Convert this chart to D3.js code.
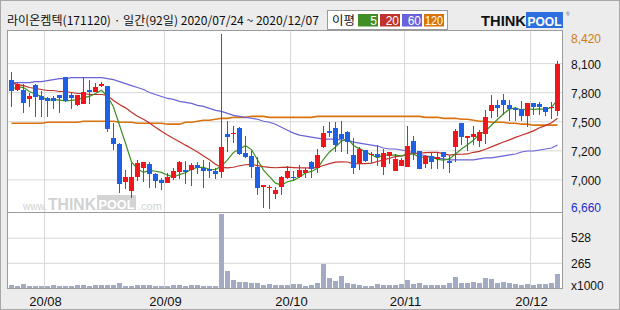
<!DOCTYPE html>
<html><head><meta charset="utf-8">
<script src="https://cdn.jsdelivr.net/npm/d3@7"></script>
<style>body{margin:0;background:#ececec}svg{display:block}</style>
</head><body>
<svg id="c" width="620" height="310"></svg>
<script>
const dates = ["07/24","07/27","07/28","07/29","07/30","07/31",
"08/03","08/04","08/05","08/06","08/07","08/10","08/11","08/12","08/13","08/14","08/18","08/19","08/20","08/21","08/24","08/25","08/26","08/27","08/28","08/31",
"09/01","09/02","09/03","09/04","09/07","09/08","09/09","09/10","09/11","09/14","09/15","09/16","09/17","09/18","09/21","09/22","09/23","09/24","09/25","09/28","09/29",
"10/05","10/06","10/07","10/08","10/12","10/13","10/14","10/15","10/16","10/19","10/20","10/21","10/22","10/23","10/26","10/27","10/28","10/29","10/30",
"11/02","11/03","11/04","11/05","11/06","11/09","11/10","11/11","11/12","11/13","11/16","11/17","11/18","11/19","11/20","11/23","11/24","11/25","11/26","11/27","11/30",
"12/01","12/02","12/03","12/04","12/07"];
const open = [7960,7860,7860,7760,7910,7790,7770,7770,7800,7990,7800,7700,7710,7860,7830,7900,7900,7370,7310,6930,
6840,6980,7070,7110,7010,6950,6920,6970,7030,7050,7050,7100,7070,7060,7040,7030,7410,7410,7470,7220,
7190,7080,6880,6870,6810,6880,6970,6980,6980,7020,7130,7070,7280,7440,7470,7410,7430,7200,7120,7250,
7200,7210,7080,7190,7040,7090,7080,7340,7240,7110,7190,7160,7230,7140,7280,7520,7370,7380,7340,7410,
7640,7700,7750,7700,7670,7660,7590,7720,7710,7680,7670,7640];
const high = [8040,7930,7920,7820,7920,7850,7780,7790,7800,7990,7820,7800,7990,7960,7930,7940,7900,7520,7320,7050,
7120,7150,7130,7130,7020,6970,7020,7070,7140,7140,7120,7130,7150,7130,7070,8420,7540,7490,7480,7390,
7240,7180,6900,6900,6880,6990,7090,7040,7100,7070,7140,7260,7490,7530,7530,7540,7440,7370,7280,7250,
7230,7300,7260,7230,7210,7170,7490,7390,7240,7200,7220,7220,7230,7200,7460,7520,7390,7490,7450,7650,
7800,7750,7810,7750,7680,7740,7720,7720,7730,7680,7730,8150];
const low = [7680,7850,7620,7680,7580,7580,7580,7660,7620,7730,7660,7690,7710,7710,7830,7890,7430,7250,6820,6860,
6770,6940,6930,6870,6870,6850,6920,6950,6960,6910,6890,7010,6870,6970,6960,6970,7230,7320,7200,7170,
6970,6800,6670,6660,6760,6800,6960,6940,6970,6970,6970,7020,7270,7380,7230,7230,7210,7010,7050,7130,
7120,7090,7000,7110,7040,7090,7080,7150,7060,7070,7060,7060,7060,7020,7130,7300,7240,7300,7280,7310,
7570,7580,7600,7540,7540,7540,7480,7600,7600,7590,7560,7590];
const close = [7850,7920,7720,7790,7780,7750,7740,7740,7770,7740,7770,7800,7840,7830,7890,7920,7460,7310,6910,6980,
6980,7120,7130,7010,6940,6920,6980,7040,7130,7030,7100,7070,7040,7040,7010,7280,7380,7420,7210,7180,
7080,6870,6900,6880,6850,6980,7040,6970,7050,7050,7060,7200,7420,7420,7300,7360,7330,7070,7260,7140,
7210,7180,7220,7230,7160,7150,7290,7220,7060,7190,7130,7180,7180,7120,7440,7380,7390,7410,7430,7580,
7700,7670,7700,7660,7650,7590,7720,7680,7680,7630,7680,8120];
const volume = [28,18,42,18,18,18,18,28,18,18,18,28,28,18,28,28,28,28,49,18,
18,28,28,28,18,18,18,28,28,18,28,28,18,18,18,778,176,81,67,60,
49,49,32,39,32,32,32,39,39,18,28,56,257,106,70,127,56,46,35,18,
18,39,28,28,28,39,81,39,49,28,28,28,28,49,116,49,49,60,49,106,
92,49,60,49,39,28,39,28,39,39,49,144];
const ma5 = [7860,7890,7880,7840,7814,7790,7754,7758,7754,7746,7750,7758,7778,7790,7820,7852,7790,7684,7500,7318,
7130,7060,7024,7044,7036,7024,6996,6978,7002,7020,7056,7074,7074,7056,7052,7088,7150,7226,7260,7294,
7254,7152,7048,6982,6916,6896,6930,6944,6978,7018,7034,7066,7156,7230,7280,7340,7366,7296,7264,7232,
7202,7172,7202,7196,7200,7188,7210,7210,7176,7182,7178,7156,7148,7160,7210,7260,7302,7348,7410,7438,
7502,7558,7616,7662,7676,7654,7664,7660,7664,7660,7678,7758];
const ma20 = [7930,7910,7900,7880,7870,7860,7850,7850,7840,7840,7830,7820,7820,7810,7810,7810,7800,7750,7710,7675,
7631,7591,7561,7522,7480,7439,7401,7366,7334,7299,7266,7230,7190,7151,7107,7075,7070,7076,7091,7101,
7106,7093,7082,7075,7071,7074,7077,7073,7069,7070,7068,7075,7094,7113,7127,7131,7129,7111,7114,7112,
7118,7134,7150,7167,7183,7191,7204,7216,7217,7224,7227,7226,7214,7199,7206,7207,7210,7227,7236,7258,
7282,7307,7331,7352,7377,7399,7420,7443,7474,7496,7524,7571];
const ma60 = [7930,7930,7930,7930,7940,7940,7950,7960,7970,7970,7980,7980,7980,7980,7980,7980,7970,7960,7940,7920,
7900,7880,7860,7830,7810,7790,7770,7760,7740,7730,7720,7700,7690,7670,7650,7640,7620,7600,7590,7580,
7570,7560,7540,7530,7510,7480,7450,7420,7400,7390,7380,7370,7360,7360,7360,7350,7350,7330,7320,7310,
7300,7290,7270,7260,7260,7250,7240,7220,7210,7190,7180,7170,7160,7150,7150,7150,7150,7150,7160,7170,
7170,7180,7190,7200,7210,7230,7240,7240,7250,7260,7270,7300];
const ma120 = [7520,7520,7520,7520,7520,7520,7530,7530,7530,7530,7530,7530,7540,7540,7540,7540,7540,7540,7530,7530,
7530,7520,7520,7520,7520,7520,7510,7510,7510,7530,7530,7540,7550,7550,7560,7570,7570,7580,7580,7580,
7590,7590,7590,7580,7580,7580,7580,7580,7580,7580,7580,7590,7590,7590,7590,7590,7590,7590,7590,7590,
7590,7590,7590,7590,7590,7590,7590,7590,7590,7580,7580,7580,7570,7570,7570,7560,7560,7550,7540,7540,
7530,7530,7530,7520,7520,7510,7510,7500,7500,7500,7500,7500];
const priceRange = [6660, 8420];
const priceTickLabels = ["7,000","7,200","7,500","7,800","8,100"];
const volumeMax = 792;
const volumeTickLabels = ["265","528"];
const monthLabels = ["20/08","20/09","20/10","20/11","20/12"];
const monthKeys = ["08","09","10","11","12"];
const maNames = ["5","20","60","120"];
const maColors = ["#3f8f24","#c0332a","#6a62d8","#d9730d"];

const svg = d3.select("#c");
const plotL = 8, plotR = 562, plotT = 31, sepY = 212.5, plotB = 288;

const x = d3.scaleBand().domain(dates).range([8, 560]);
const y = d3.scaleLinear().domain(priceRange).range([208.5, 34]);
const yv = d3.scaleLinear().domain([0, volumeMax]).range([plotB, sepY]);

svg.append("rect").attr("width",620).attr("height",310).attr("fill","#ececec");
svg.append("rect").attr("x",0.5).attr("y",0.5).attr("width",619).attr("height",309)
  .attr("fill","none").attr("stroke","#a8a8a8");
svg.append("rect").attr("x",plotL).attr("y",plotT).attr("width",plotR-plotL).attr("height",plotB-plotT).attr("fill","#fff");

// horizontal gridlines
const priceTicks = d3.range(1,6).map(k => priceRange[0] + k*(priceRange[1]-priceRange[0])/6);
const volTicks = [1,2].map(k => k*volumeMax/3);
const gg = svg.append("g").attr("transform",`translate(${plotL},0)`)
  .call(d3.axisLeft(y).tickValues(priceTicks).tickSize(-(plotR-plotL)).tickFormat(""));
const gv = svg.append("g").attr("transform",`translate(${plotL},0)`)
  .call(d3.axisLeft(yv).tickValues(volTicks).tickSize(-(plotR-plotL)).tickFormat(""));
[gg,gv].forEach(g=>{g.select(".domain").remove(); g.selectAll("line").attr("stroke","#d8d8d8");});

// vertical month gridlines
const monthFirst = monthKeys.map(m => dates.find(d => d.startsWith(m)));
svg.append("g").selectAll("line").data(monthFirst).join("line")
  .attr("x1", d => x(d)+0.5).attr("x2", d => x(d)+0.5)
  .attr("y1", plotT).attr("y2", plotB).attr("stroke","#d8d8d8");

// watermark
const wm = svg.append("g").attr("fill","#d2d2d2").attr("font-family","Liberation Sans, Arial, sans-serif");
wm.append("text").attr("x",23).attr("y",209.5).attr("font-size",10).attr("textLength",24).attr("lengthAdjust","spacingAndGlyphs").text("www.");
wm.append("text").attr("x",48).attr("y",209.5).attr("font-size",16).attr("font-weight","bold").attr("textLength",48).attr("lengthAdjust","spacingAndGlyphs").text("THINK");
wm.append("rect").attr("x",97).attr("y",195).attr("width",39).attr("height",15).attr("fill","#d4d4d4");
wm.append("text").attr("x",98.5).attr("y",209).attr("font-size",13).attr("font-weight","bold").attr("fill","#fff").attr("textLength",36).attr("lengthAdjust","spacingAndGlyphs").text("POOL");
wm.append("text").attr("x",138).attr("y",209.5).attr("font-size",11).text(".com");

// volume bars
svg.append("g").selectAll("rect").data(volume).join("rect")
  .attr("x",(v,i)=>x(dates[i])+1).attr("width",5)
  .attr("y",v=>Math.round(yv(v))).attr("height",v=>plotB-Math.round(yv(v)))
  .attr("fill","#a3abc3");

// moving averages
const line = d3.line().x((v,i)=>x(dates[i])+3.5).y(v=>y(v));
[ma120, ma60, ma20, ma5].forEach((arr,k)=>{
  const idx = 3-k;
  svg.append("path").attr("d",line(arr)).attr("fill","none")
    .attr("stroke",maColors[idx]).attr("stroke-width", idx===3?1.7:1.2);
});

// candles
const cd = dates.map((d,i)=>({d,o:open[i],h:high[i],l:low[i],c:close[i]}));
const gc = svg.append("g").attr("shape-rendering","crispEdges");
const col = d => d.c >= d.o ? "#f0161c" : "#1f5fe4";
gc.selectAll(".w").data(cd).join("rect").attr("class","w")
  .attr("x",d=>x(d.d)+3).attr("width",1)
  .attr("y",d=>Math.round(y(d.h))).attr("height",d=>Math.max(1,Math.round(y(d.l))-Math.round(y(d.h))))
  .attr("fill",col);
gc.selectAll(".b").data(cd).join("rect").attr("class","b")
  .attr("x",d=>x(d.d)+1).attr("width",5)
  .attr("y",d=>Math.round(y(Math.max(d.o,d.c))))
  .attr("height",d=>Math.max(1,Math.round(y(Math.min(d.o,d.c)))-Math.round(y(Math.max(d.o,d.c)))))
  .attr("fill",col);

// frame
svg.append("rect").attr("x",plotL-0.5).attr("y",plotT-0.5).attr("width",plotR-plotL+1).attr("height",plotB-plotT+1)
  .attr("fill","none").attr("stroke","#9c9c9c");
svg.append("line").attr("x1",plotL).attr("x2",plotR).attr("y1",sepY).attr("y2",sepY).attr("stroke","#9c9c9c");

// right axis labels
const fnt = "Liberation Sans, Arial, sans-serif";
const ax = svg.append("g").attr("font-family",fnt).attr("font-size",12);
ax.selectAll(".pt").data(priceTicks).join("text").attr("class","pt")
  .attr("x",571).attr("y",d=>y(d)+5.8).attr("fill","#111").text((d,i)=>priceTickLabels[i]);
ax.append("text").attr("x",571).attr("y",y(priceRange[1])+8.7).attr("fill","#d07a12").text(d3.format(",")(priceRange[1]));
ax.append("text").attr("x",571).attr("y",y(priceRange[0])+3).attr("fill","#1c2ccc").text(d3.format(",")(priceRange[0]));
ax.selectAll(".vt").data(volTicks).join("text").attr("class","vt")
  .attr("x",571).attr("y",d=>yv(d)+4.8).attr("fill","#111").text((d,i)=>volumeTickLabels[i]);
ax.append("text").attr("x",571).attr("y",plotB+2).attr("fill","#111").text("x1000");

// month labels
svg.append("g").attr("font-family",fnt).attr("font-size",13).attr("fill","#111")
  .selectAll("text").data(monthFirst).join("text")
  .attr("x",d=>x(d)+1.5).attr("y",305.5).attr("text-anchor","middle")
  .text((d,i)=>monthLabels[i]);

// header
svg.append("text").attr("x",7).attr("y",24.5).attr("font-family","Noto Sans CJK KR, sans-serif")
  .attr("font-size",12).attr("fill","#111").attr("textLength",312).attr("lengthAdjust","spacingAndGlyphs")
  .text("라이온켐텍(171120) · 일간(92일) 2020/07/24 ~ 2020/12/07");
const lg = svg.append("g");
lg.append("rect").attr("x",327.5).attr("y",10.5).attr("width",120).attr("height",19)
  .attr("fill","#fff").attr("stroke","#9a9a9a");
lg.append("text").attr("x",332).attr("y",24.5).attr("font-family","Noto Sans CJK KR, sans-serif")
  .attr("font-size",12).attr("fill","#111").attr("textLength",23).attr("lengthAdjust","spacingAndGlyphs").text("이평");
const bx = [358,380,402,424];
maNames.forEach((n,i)=>{
  lg.append("rect").attr("x",bx[i]).attr("y",14).attr("width",20).attr("height",12.5).attr("fill",maColors[i]);
  const t = lg.append("text").attr("x",bx[i]+19).attr("y",24.8).attr("text-anchor","end")
    .attr("font-family",fnt).attr("font-size",12).attr("fill","#fff").text(n);
  if (n.length === 3) t.attr("textLength",18).attr("lengthAdjust","spacingAndGlyphs");
});
// logo
const lo = svg.append("g").attr("font-family",fnt).attr("font-weight","bold");
lo.append("text").attr("x",481).attr("y",26).attr("font-size",15).attr("fill","#111").attr("textLength",45).attr("lengthAdjust","spacingAndGlyphs").text("THINK");
lo.append("rect").attr("x",526).attr("y",12).attr("width",37).attr("height",16).attr("fill","#2d6fe0");
lo.append("text").attr("x",527.5).attr("y",26).attr("font-size",13).attr("fill","#fff").attr("textLength",34).attr("lengthAdjust","spacingAndGlyphs").text("POOL");
lo.append("text").attr("x",566).attr("y",16).attr("font-size",5).attr("fill","#888").text("®");
</script>
</body></html>
